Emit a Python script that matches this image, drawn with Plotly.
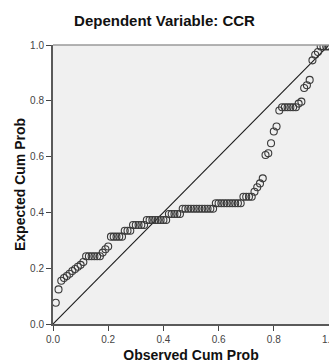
import plotly.graph_objects as go

observed_cum_prob = [
    0.01, 0.02, 0.03, 0.04, 0.05, 0.06, 0.07, 0.08, 0.09, 0.10,
    0.11, 0.12, 0.13, 0.14, 0.15, 0.16, 0.17, 0.18, 0.19, 0.20,
    0.21, 0.22, 0.23, 0.24, 0.25, 0.26, 0.27, 0.28, 0.29, 0.30,
    0.31, 0.32, 0.33, 0.34, 0.35, 0.36, 0.37, 0.38, 0.39, 0.40,
    0.41, 0.42, 0.43, 0.44, 0.45, 0.46, 0.47, 0.48, 0.49, 0.50,
    0.51, 0.52, 0.53, 0.54, 0.55, 0.56, 0.57, 0.58, 0.59, 0.60,
    0.61, 0.62, 0.63, 0.64, 0.65, 0.66, 0.67, 0.68, 0.69, 0.70,
    0.71, 0.72, 0.73, 0.74, 0.75, 0.76, 0.77, 0.78, 0.79, 0.80,
    0.81, 0.82, 0.83, 0.84, 0.85, 0.86, 0.87, 0.88, 0.89, 0.90,
    0.91, 0.92, 0.93, 0.94, 0.95, 0.96, 0.97, 0.98, 0.99, 1.00,
]

expected_cum_prob = [
    0.076, 0.124, 0.155, 0.165, 0.172, 0.180, 0.190, 0.197, 0.205, 0.212,
    0.222, 0.243, 0.243, 0.243, 0.243, 0.243, 0.243, 0.256, 0.268, 0.278,
    0.313, 0.313, 0.313, 0.313, 0.313, 0.334, 0.334, 0.334, 0.355, 0.355,
    0.355, 0.355, 0.355, 0.373, 0.373, 0.373, 0.373, 0.373, 0.373, 0.373,
    0.373, 0.394, 0.394, 0.394, 0.394, 0.394, 0.413, 0.413, 0.413, 0.413,
    0.413, 0.413, 0.413, 0.413, 0.413, 0.413, 0.413, 0.413, 0.433, 0.433,
    0.433, 0.433, 0.433, 0.433, 0.433, 0.433, 0.433, 0.433, 0.456, 0.456,
    0.456, 0.456, 0.474, 0.490, 0.504, 0.522, 0.606, 0.612, 0.648, 0.690,
    0.708, 0.765, 0.777, 0.777, 0.777, 0.777, 0.777, 0.777, 0.790, 0.797,
    0.846, 0.856, 0.875, 0.945, 0.965, 0.975, 0.995, 0.995, 0.995, 0.995,
]

reference_x = [0.0, 1.0]
reference_y = [0.0, 1.0]

tick_vals = [0.0, 0.2, 0.4, 0.6, 0.8, 1.0]
tick_text = ["0.0", "0.2", "0.4", "0.6", "0.8", "1.0"]

fig = go.Figure()

fig.add_trace(go.Scatter(
    x=reference_x, y=reference_y, mode="lines",
    line=dict(color="#1a1a1a", width=1.1),
    hoverinfo="skip", showlegend=False,
))

fig.add_trace(go.Scatter(
    x=observed_cum_prob, y=expected_cum_prob, mode="markers",
    marker=dict(symbol="circle-open", size=7, color="#3a3a3a",
                line=dict(width=1.1, color="#3a3a3a")),
    showlegend=False,
))

axis_font = dict(family="Liberation Sans, Arial, sans-serif", size=10, color="#444444")
title_font = dict(family="Liberation Sans, Arial, sans-serif", size=14, color="#111111")

fig.update_layout(
    width=329, height=363,
    margin=dict(l=53, r=0, t=45, b=39, autoexpand=False),
    paper_bgcolor="white",
    plot_bgcolor="#f0f0f0",
    title=dict(
        text="<b>Dependent Variable: CCR</b>",
        font=dict(family="Liberation Sans, Arial, sans-serif", size=15, color="#111111"),
        x=0.5, xanchor="center", xref="container",
        y=1 - 21 / 363, yanchor="middle", yref="container",
    ),
    xaxis=dict(
        range=[0, 1], tickvals=tick_vals, ticktext=tick_text,
        showgrid=False, zeroline=False,
        showline=True, linecolor="#5a5a5a", linewidth=2,
        ticks="outside", ticklen=5, tickcolor="#444444", tickwidth=1,
        tickfont=axis_font, ticklabeloverflow="allow",
        title=dict(text="<b>Observed Cum Prob</b>", font=title_font, standoff=11),
        automargin=False,
    ),
    yaxis=dict(
        range=[0, 1], tickvals=tick_vals, ticktext=tick_text,
        showgrid=False, zeroline=False,
        showline=True, linecolor="#5a5a5a", linewidth=2,
        ticks="outside", ticklen=5, tickcolor="#444444", tickwidth=1,
        tickfont=axis_font,
        title=dict(text="<b>Expected Cum Prob</b>", font=title_font, standoff=1),
        automargin=False,
    ),
    shapes=[dict(
        type="line", xref="paper", yref="paper",
        x0=0, x1=1, y0=1, y1=1,
        line=dict(color="#9a9a9a", width=1.5),
    )],
)

fig.write_html(
    "out.html",
    config={"displayModeBar": False},
    post_script="document.body.style.margin='0';document.body.style.overflow='hidden';",
)
